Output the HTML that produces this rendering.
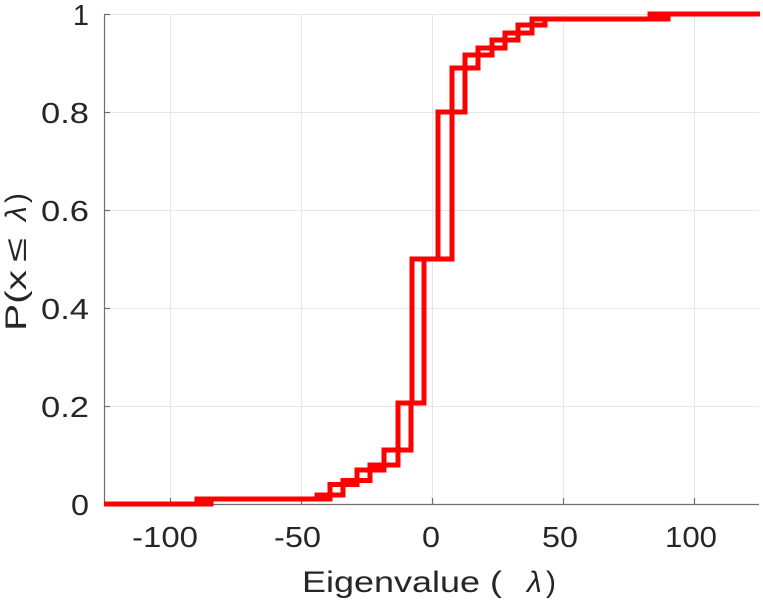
<!DOCTYPE html>
<html>
<head>
<meta charset="utf-8">
<style>
  html, body { margin: 0; padding: 0; background: #ffffff; }
  body { width: 763px; height: 600px; overflow: hidden; }
  svg { display: block; }
  text { font-family: "Liberation Sans", "DejaVu Sans", sans-serif; fill: #262626; }
</style>
</head>
<body>
<svg width="763" height="600" viewBox="0 0 763 600" xmlns="http://www.w3.org/2000/svg">
  <rect x="0" y="0" width="763" height="600" fill="#ffffff"/>

  <!-- grid -->
  <g stroke="#e6e6e6" stroke-width="1">
    <line x1="170.5" y1="14" x2="170.5" y2="504"/>
    <line x1="301.5" y1="14" x2="301.5" y2="504"/>
    <line x1="432.5" y1="14" x2="432.5" y2="504"/>
    <line x1="563.5" y1="14" x2="563.5" y2="504"/>
    <line x1="694.5" y1="14" x2="694.5" y2="504"/>
    <line x1="104" y1="14.5" x2="759" y2="14.5"/>
    <line x1="104" y1="112.5" x2="759" y2="112.5"/>
    <line x1="104" y1="210.5" x2="759" y2="210.5"/>
    <line x1="104" y1="308.5" x2="759" y2="308.5"/>
    <line x1="104" y1="406.5" x2="759" y2="406.5"/>
  </g>

  <!-- axes -->
  <g stroke="#6e6e6e" stroke-width="1.2" fill="none">
    <line x1="104.5" y1="14" x2="104.5" y2="505"/>
    <line x1="104" y1="504.5" x2="759" y2="504.5"/>
    <!-- y ticks -->
    <line x1="104" y1="14.5" x2="110" y2="14.5"/>
    <line x1="104" y1="112.5" x2="110" y2="112.5"/>
    <line x1="104" y1="210.5" x2="110" y2="210.5"/>
    <line x1="104" y1="308.5" x2="110" y2="308.5"/>
    <line x1="104" y1="406.5" x2="110" y2="406.5"/>
    <!-- x ticks -->
    <line x1="170.5" y1="504" x2="170.5" y2="498"/>
    <line x1="301.5" y1="504" x2="301.5" y2="498"/>
    <line x1="432.5" y1="504" x2="432.5" y2="498"/>
    <line x1="563.5" y1="504" x2="563.5" y2="498"/>
    <line x1="694.5" y1="504" x2="694.5" y2="498"/>
  </g>

  <!-- step curves -->
  <g fill="none" stroke="#ff0000" stroke-width="5" stroke-linejoin="miter" stroke-linecap="butt">
    <path d="M104,504 H197 V499 H317 V495 H330 V484.5 H343 V480.5 H357 V470 H370 V465 H384 V450 H398 V403 H412 V259 H438 V112 H452 V68 H465 V55 H478 V48 H492 V40 H505 V33 H518 V25 H532 V19 H650 V14 H760"/>
    <path d="M104,504 H211 V499 H330 V495 H343 V484.5 H357 V480.5 H370 V470 H384 V465 H398 V450 H411 V403 H424 V259 H452 V112 H465 V68 H478 V55 H492 V48 H505 V40 H518 V33 H532 V25 H545 V19 H668 V14 H760"/>
  </g>

  <!-- x tick labels -->
  <g font-size="29">
    <text x="165" y="547" text-anchor="middle" textLength="66" lengthAdjust="spacingAndGlyphs">-100</text>
    <text x="297.5" y="547" text-anchor="middle" textLength="47" lengthAdjust="spacingAndGlyphs">-50</text>
    <text x="431" y="547" text-anchor="middle" textLength="18" lengthAdjust="spacingAndGlyphs">0</text>
    <text x="560" y="547" text-anchor="middle" textLength="36" lengthAdjust="spacingAndGlyphs">50</text>
    <text x="691" y="547" text-anchor="middle" textLength="52" lengthAdjust="spacingAndGlyphs">100</text>
  </g>

  <!-- y tick labels -->
  <g font-size="29">
    <text x="89" y="25" text-anchor="end">1</text>
    <text x="89" y="123" text-anchor="end" textLength="48" lengthAdjust="spacingAndGlyphs">0.8</text>
    <text x="89" y="221" text-anchor="end" textLength="48" lengthAdjust="spacingAndGlyphs">0.6</text>
    <text x="89" y="319" text-anchor="end" textLength="48" lengthAdjust="spacingAndGlyphs">0.4</text>
    <text x="89" y="417" text-anchor="end" textLength="48" lengthAdjust="spacingAndGlyphs">0.2</text>
    <text x="89" y="515" text-anchor="end" textLength="18" lengthAdjust="spacingAndGlyphs">0</text>
  </g>

  <!-- x label -->
  <text x="302" y="592" font-size="30" textLength="200" lengthAdjust="spacingAndGlyphs">Eigenvalue (</text>
  <text x="527" y="592" font-size="30" font-style="italic" font-family="Liberation Serif, DejaVu Serif, serif">λ</text>
  <text x="546" y="592" font-size="30">)</text>

  <!-- y label -->
  <text transform="translate(26,331) rotate(-90)" font-size="30" textLength="61" lengthAdjust="spacingAndGlyphs">P(x</text>
  <text transform="translate(26,262) rotate(-90)" font-size="30" textLength="24" lengthAdjust="spacingAndGlyphs">≤</text>
  <text transform="translate(26,221) rotate(-90)" font-size="30" font-style="italic" font-family="Liberation Serif, DejaVu Serif, serif">λ</text>
  <text transform="translate(26,203) rotate(-90)" font-size="30">)</text>
</svg>
</body>
</html>
